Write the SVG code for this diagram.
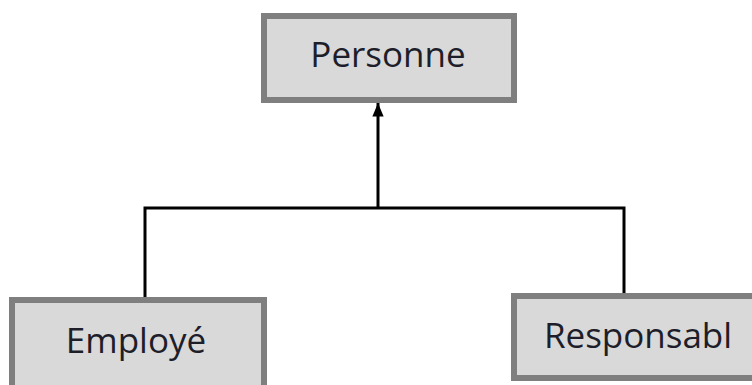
<svg xmlns="http://www.w3.org/2000/svg" width="752" height="385" viewBox="0 0 752 385">
  <style>
    .box { fill: #d9d9d9; stroke: #7f7f7f; stroke-width: 6; }
    .label { font-family: "Open Sans", "Liberation Sans", sans-serif; font-size: 35px; fill: #1e1e2a; text-anchor: middle; }
    .wire { fill: none; stroke: #000; stroke-width: 3; }
  </style>
  <defs>
    <marker id="arrow" viewBox="0 0 12 10" refX="12" refY="5" markerWidth="4.5" markerHeight="3.8" orient="auto" markerUnits="strokeWidth">
      <path d="M0,0 L12,5 L0,10 Z" fill="#000"/>
    </marker>
  </defs>
  <rect width="752" height="385" fill="#fff"/>

  <g id="connectors">
    <polyline class="wire" points="145,297 145,208 624,208 624,293"/>
    <line class="wire" x1="378" y1="208" x2="378" y2="103" marker-end="url(#arrow)"/>
  </g>

  <g id="personne">
    <rect class="box" x="264" y="16" width="250" height="84"/>
    <text class="label" x="388" y="67">Personne</text>
  </g>

  <g id="employe">
    <rect class="box" x="12" y="300" width="252" height="100"/>
    <text class="label" x="136" y="353">Employé</text>
  </g>

  <g id="responsable">
    <rect class="box" x="514" y="296" width="260" height="82"/>
    <text class="label" x="638" y="348">Responsabl</text>
  </g>
</svg>
